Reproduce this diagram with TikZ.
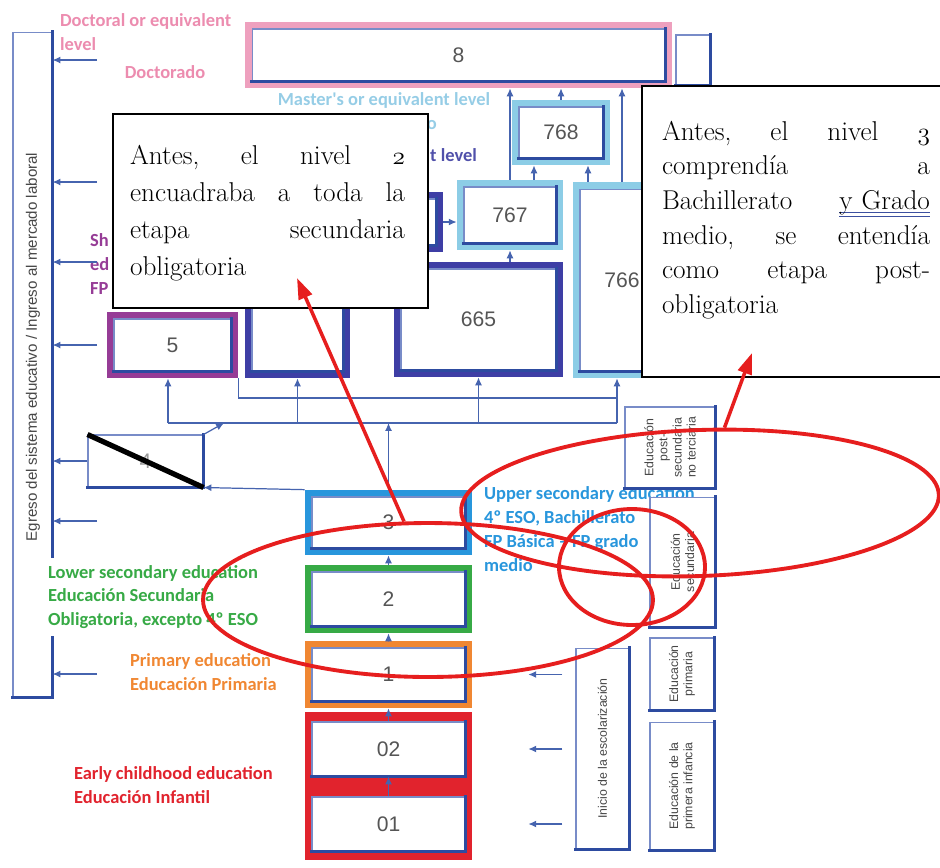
\documentclass[tikz,border=0pt]{standalone}
\usepackage{fontspec}
\usetikzlibrary{arrows.meta,shapes.geometric}
\newfontfamily\labfont{Carlito}
\newfontfamily\numfont{Liberation Sans}

\definecolor{pinkc}{RGB}{238,160,190}
\definecolor{pinktx}{RGB}{236,140,175}
\definecolor{mastc}{RGB}{140,205,230}
\definecolor{masttx}{RGB}{150,205,230}
\definecolor{navyc}{RGB}{62,62,165}
\definecolor{bachtx}{RGB}{80,80,170}
\definecolor{purpc}{RGB}{150,60,150}
\definecolor{uppc}{RGB}{40,150,220}
\definecolor{greenc}{RGB}{55,170,70}
\definecolor{orangec}{RGB}{240,135,50}
\definecolor{redc}{RGB}{225,35,45}
\definecolor{markred}{RGB}{230,30,30}
\definecolor{rimc}{RGB}{45,75,160}
\definecolor{thinc}{RGB}{120,140,200}
\definecolor{flowc}{RGB}{70,100,175}
\definecolor{numgray}{RGB}{85,85,85}
\definecolor{vgray}{RGB}{70,70,70}
\definecolor{ulblue}{RGB}{60,80,160}

\newsavebox\ulbox
\newcommand{\dblu}[1]{\sbox\ulbox{#1}%
  \rlap{\color{ulblue}\rule[-2.2pt]{\wd\ulbox}{0.6pt}}%
  \rlap{\color{ulblue}\rule[-4.2pt]{\wd\ulbox}{0.6pt}}\usebox\ulbox}
\newcommand{\onum}[1]{$\mathnormal{#1}$}

\tikzset{
  lvl/.style={draw=thinc, line width=0.6pt, fill=white, inner sep=0pt,
    text=numgray, font=\numfont\fontsize{12}{14}\selectfont,
    append after command={
      (\tikzlastnode.north east) edge[rim] (\tikzlastnode.south east)
      (\tikzlastnode.south east) edge[rim] (\tikzlastnode.south west)}},
  rim/.style={draw=rimc, line width=1.8pt, line cap=rect},
  lvlframe/.style={fill=#1, inner sep=0pt},
  lab/.style={font=\labfont\bfseries\fontsize{10.5}{13.6}\selectfont, align=left, inner sep=1pt},
  vtext/.style={rotate=90, font=\numfont\fontsize{7}{8}\selectfont, text=vgray, align=center, inner sep=0pt},
  flow/.style={draw=flowc, line width=0.7pt, -{Latex[length=4.5pt,width=4pt]}},
  wire/.style={draw=flowc, line width=0.7pt},
  strikeline/.style={draw=black, line width=3pt},
  redring/.style={ellipse, draw=markred, line width=2.2pt, inner sep=0pt},
  redarrow/.style={draw=markred, line width=2pt, -{Triangle[length=12pt,width=8pt]}},
  notebox/.style={draw=black, line width=1.4pt, fill=white},
  notetext/.style={align=left, inner sep=0pt, text=black},
}

\begin{document}
\begin{tikzpicture}[x=0.02cm, y=-0.02cm]
\useasboundingbox (0,0) rectangle (940,867);

% exit column on the left
\node[lvl, minimum width=0.78cm, minimum height=13.3cm] (nEgr) at (32.5,364.5) {};
\node[vtext, font=\numfont\fontsize{8.6}{10}\selectfont] (tEgr) at (33,347) {Egreso del sistema educativo / Ingreso al mercado laboral};

% level names
\node[lab, text=pinktx, anchor=west] (lDoc) at (58,32) {Doctoral or equivalent\\level};
\node[lab, text=pinktx] (lDoc2) at (165,72) {Doctorado};
\node[lab, text=masttx] (lMas) at (384,100) {Master's or equivalent level};
\node[lab, text=masttx, anchor=east] (lMas2) at (439,125) {o};
\node[lab, text=bachtx, anchor=east] (lBach) at (479,155) {t level};
\node[lab, text=purpc, anchor=west] (lShort) at (88,264) {Sh\\ed\\FP};
\node[lab, text=uppc, anchor=west] (lUpp) at (482,529) {Upper secondary education\\4º ESO, Bachillerato\\FP Básica – FP grado\\medio};
\node[lab, text=greenc, fill=white, anchor=west, inner ysep=4pt] (lLow) at (46,597) {Lower secondary education\\Educación Secundaria\\Obligatoria, excepto 4º ESO};
\node[lab, text=orangec, anchor=west] (lPrim) at (128,672) {Primary education\\Educación Primaria};
\node[lab, text=redc, anchor=west] (lEarly) at (72,785) {Early childhood education\\Educación Infantil};

% tertiary levels
\node[lvlframe=pinkc, minimum width=8.54cm, minimum height=1.32cm] (f8) at (458.5,55) {};
\node[lvl, minimum width=8.26cm, minimum height=1.04cm] (n8) at (f8) {8};
\node[lvl, minimum width=0.68cm, minimum height=1cm] (nTop) at (693,60) {};
\node[lvlframe=mastc, minimum width=1.96cm, minimum height=1.3cm] (f768) at (561,132.5) {};
\node[lvl, minimum width=1.68cm, minimum height=1.02cm] (n768) at (f768) {768};
\node[lvlframe=mastc, minimum width=2.12cm, minimum height=1.4cm] (f767) at (510,215) {};
\node[lvl, minimum width=1.84cm, minimum height=1.12cm] (n767) at (f767) {767};
\node[lvlframe=mastc, minimum width=1.96cm, minimum height=3.92cm] (f766) at (622,280) {};
\node[lvl, minimum width=1.68cm, minimum height=3.64cm] (n766) at (f766) {766};
\node[lvlframe=navyc, minimum width=2.26cm, minimum height=1.2cm] (f6a) at (386.5,222) {};
\node[lvl, minimum width=1.98cm, minimum height=0.92cm] (n6a) at (f6a) {};
\node[lvlframe=navyc, minimum width=3.38cm, minimum height=2.3cm] (f665) at (478.5,319.5) {};
\node[lvl, minimum width=3.1cm, minimum height=2.02cm] (n665) at (f665) {665};
\node[lvlframe=navyc, minimum width=2.1cm, minimum height=2.32cm] (f6b) at (297.5,320) {};
\node[lvl, minimum width=1.82cm, minimum height=2.04cm] (n6b) at (f6b) {};
\node[lvlframe=purpc, minimum width=2.62cm, minimum height=1.32cm] (f5) at (172.5,345) {};
\node[lvl, minimum width=2.34cm, minimum height=1.04cm] (n5) at (f5) {5};
\node[lvl, text=numgray!60, minimum width=2.3cm, minimum height=1.04cm] (n4) at (145.5,461) {4};

% school levels
\node[lvlframe=uppc, minimum width=3.34cm, minimum height=1.3cm] (f3) at (388.5,522.5) {};
\node[lvl, minimum width=3.06cm, minimum height=1.02cm] (n3) at (f3) {3};
\node[lvlframe=greenc, minimum width=3.34cm, minimum height=1.36cm] (f2) at (388.5,599) {};
\node[lvl, minimum width=3.06cm, minimum height=1.08cm] (n2) at (f2) {2};
\node[lvlframe=orangec, minimum width=3.34cm, minimum height=1.34cm] (f1) at (388.5,674.5) {};
\node[lvl, minimum width=3.06cm, minimum height=1.06cm] (n1) at (f1) {1};
\node[lvlframe=redc, minimum width=3.34cm, minimum height=2.96cm] (fred) at (388.5,786) {};
\node[lvl, minimum width=3.06cm, minimum height=1.08cm] (n02) at (388.5,749) {02};
\node[lvl, minimum width=3.06cm, minimum height=1.08cm] (n01) at (388.5,824) {01};

% right column
\node[lvl, minimum width=1.8cm, minimum height=1.62cm] (nPost) at (670,447.5) {};
\node[vtext] (tPost) at (nPost) {Educación\\post-\\secundaria\\no terciaria};
\node[lvl, minimum width=1.3cm, minimum height=2.6cm] (nSec) at (682.5,562) {};
\node[vtext] (tSec) at (nSec) {Educación\\secundaria};
\node[lvl, minimum width=1.28cm, minimum height=1.44cm] (nPrim) at (682,674) {};
\node[vtext] (tPrim) at (nPrim) {Educación\\primaria};
\node[lvl, minimum width=1.28cm, minimum height=2.56cm] (nInf) at (682,786) {};
\node[vtext] (tInf) at (nInf) {Educación de la\\primera infancia};
\node[lvl, minimum width=1.06cm, minimum height=4.02cm] (nIni) at (602.5,748.5) {};
\node[vtext] (tIni) at (nIni) {Inicio de la escolarización};

% connectors between the upper levels
\draw[flow] (f768.north) -- (f768.north |- f8.south);
\draw[flow] (f767.north) -- (f767.north |- f8.south);
\draw[flow] (f766.north) -- (f766.north |- f8.south);
\draw[flow] ([xshift=0.48cm]f767.north) -- ([xshift=0.48cm]f767.north |- f768.south);
\draw[flow] ([xshift=-0.68cm]f766.north) -- ([xshift=-0.68cm]f766.north |- f768.south);
\draw[flow] (f665.north -| f767.south) -- (f767.south);
\draw[flow] (f6a.east) -- (f6a.east -| f767.west);

% bus lines
\coordinate (busL) at (168,423);
\coordinate (busR) at (617,423);
\coordinate (busM) at (617,398);
\coordinate (up4) at (224,423);
\draw[wire] (busL) -- (busR);
\draw[wire] (f5.south east) |- (busM);
\draw[flow] (busL) -- (busL |- f5.south);
\draw[flow] (f6b.south |- busL) -- (f6b.south);
\draw[flow] (f665.south |- busL) -- (f665.south);
\draw[flow] (busR) -- (busR |- f766.south);
\draw[flow] (f3.north) -- (f3.north |- busL);
\draw[flow] (n4.north east) -- (up4);
\draw[flow] (f3.north west) -- (n4.south east);

% column of school levels
\draw[flow] (f2.north) -- (f3.south);
\draw[flow] (f1.north) -- (f2.south);
\draw[flow] (n02.north) -- (f1.south);
\draw[flow] (n01.north) -- (n02.south);

% exits to the labour market
\coordinate (x1) at (97,60);
\coordinate (x2) at (97,182);
\coordinate (x3) at (97,262);
\coordinate (x4) at (97,345);
\coordinate (x5) at (97,521);
\coordinate (x6) at (97,674);
\draw[flow] (x1) -- (x1 -| nEgr.east);
\draw[flow] (x2) -- (x2 -| nEgr.east);
\draw[flow] (x3) -- (x3 -| nEgr.east);
\draw[flow] (x4) -- (x4 -| nEgr.east);
\draw[flow] (n4.west) -- (n4.west -| nEgr.east);
\draw[flow] (x5) -- (x5 -| nEgr.east);
\draw[flow] (x6) -- (x6 -| nEgr.east);

% entries
\draw[flow, shorten <=0.26cm, shorten >=1.12cm] (nIni.west |- f1) -- (f1.east);
\draw[flow, shorten <=0.26cm, shorten >=1.12cm] (nIni.west |- n02) -- (n02 -| f1.east);
\draw[flow, shorten <=0.26cm, shorten >=1.12cm] (nIni.west |- n01) -- (n01 -| f1.east);

\draw[strikeline] (n4.north west) -- (n4.south east);

% red marks
\node[redring, minimum width=9cm, minimum height=3.08cm] (ring1) at (428,600) {};
\node[redring, minimum width=9.56cm, minimum height=2.92cm, rotate=2] (ring2) at (700,503) {};
\node[redring, minimum width=2.92cm, minimum height=2.32cm] (ring3) at (632,567) {};

% notes
\draw[notebox] (113,114) rectangle (428,308);
\node[notetext, text width=5.5cm, font=\fontsize{15.5}{21}\selectfont] (note2) at (267.5,213)
  {Antes,\hfill el\hfill nivel\hfill \onum{2}\\
   encuadraba\hfill a\hfill toda\hfill la\\
   etapa\hfill secundaria\\
   obligatoria};
\draw[notebox] (642,86) rectangle (955,377);
\node[notetext, text width=5.36cm, font=\fontsize{15.5}{19.7}\selectfont] (note3) at (796,220)
  {Antes,\hfill el\hfill nivel\hfill \onum{3}\\
   comprendía\hfill a\\
   Bachillerato\hfill \dblu{y Grado}\\
   medio,\hfill se\hfill entendía\\
   como\hfill etapa\hfill post-\\
   obligatoria};

\coordinate (tip2) at (297,278);
\coordinate (tip3) at (752,353);
\draw[redarrow] (ring1.107) -- (tip2);
\draw[redarrow] (ring2.70) -- (tip3);
\end{tikzpicture}
\end{document}
